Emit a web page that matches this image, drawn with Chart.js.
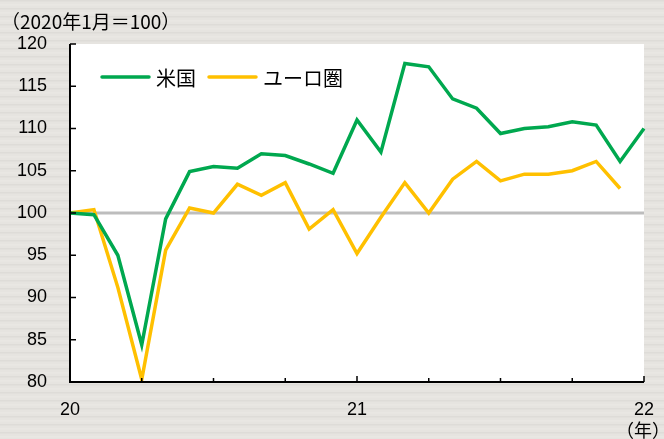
<!DOCTYPE html>
<html>
<head>
<meta charset="utf-8">
<script src="https://cdn.jsdelivr.net/npm/chart.js@4.4.1/dist/chart.umd.min.js"></script>
<style>
html,body{margin:0;padding:0;background:#e5e3df;}
#wrap{position:relative;width:664px;height:439px;}
canvas{display:block;}
</style>
</head>
<body>
<div id="wrap"><canvas id="c" width="664" height="439"></canvas></div>
<script>
// months Jan 2020 .. Jan 2022
const months = ["2020-01","2020-02","2020-03","2020-04","2020-05","2020-06","2020-07","2020-08","2020-09","2020-10","2020-11","2020-12",
                "2021-01","2021-02","2021-03","2021-04","2021-05","2021-06","2021-07","2021-08","2021-09","2021-10","2021-11","2021-12",
                "2022-01"];
const yearLabels = {0:"20", 12:"21", 24:"22"};
const usValues = [100,99.8,95.0,84.4,99.3,104.9,105.5,105.3,107.0,106.8,105.8,104.7,
                  111.0,107.2,117.7,117.3,113.5,112.4,109.4,110.0,110.2,110.8,110.4,106.1,
                  110.0];
const euroValues = [100,100.4,91.2,80.3,95.6,100.6,100.0,103.4,102.1,103.6,98.1,100.4,
                    95.2,99.5,103.6,100.0,104.0,106.1,103.8,104.6,104.6,105.0,106.1,102.9,
                    null];
const baseValues = months.map(()=>100);
const yTicks = [80,85,90,95,100,105,110,115,120];

const FONT = "'Liberation Sans', Arial, 'Noto Sans CJK JP', sans-serif";
const JFONT = "'Noto Sans CJK JP', 'Liberation Sans', sans-serif";
const GREEN = "#00a84f";
const YELLOW = "#ffc000";

const bgPlugin = {
  id:'bg',
  beforeDraw(chart){
    const ctx = chart.ctx, w = chart.width, h = chart.height;
    ctx.save();
    ctx.fillStyle = "#e6e4e0";
    ctx.fillRect(0,0,w,h);
    for(let y=0;y<h;y+=4){
      ctx.fillStyle = (y/4)%2 ? "#e9e7e3" : "#dedcd8";
      ctx.fillRect(0,y,w,1.5);
    }
    const a = chart.chartArea;
    ctx.fillStyle = "#ffffff";
    ctx.fillRect(a.left, a.top, a.right-a.left, a.bottom-a.top);
    ctx.restore();
  },
  afterDraw(chart){
    const ctx = chart.ctx, a = chart.chartArea;
    const xs = chart.scales.x, ys = chart.scales.y;
    ctx.save();
    ctx.strokeStyle = "#000";
    ctx.lineWidth = 2;
    // axes
    ctx.beginPath();
    ctx.moveTo(a.left, a.top); ctx.lineTo(a.left, a.bottom); ctx.lineTo(a.right, a.bottom);
    ctx.stroke();
    ctx.lineWidth = 1.5;
    // y ticks inward
    yTicks.forEach(v=>{
      const py = ys.getPixelForValue(v);
      ctx.beginPath(); ctx.moveTo(a.left, py); ctx.lineTo(a.left+6, py); ctx.stroke();
    });
    // x ticks inward, quarterly
    months.forEach((m,i)=>{
      if(i%3===0){
        const px = xs.getPixelForValue(i);
        const len = (i%12===0)?6:4;
        ctx.beginPath(); ctx.moveTo(px, a.bottom); ctx.lineTo(px, a.bottom-len); ctx.stroke();
      }
    });
    // title and unit
    ctx.fillStyle = "#000";
    ctx.font = "19px " + JFONT;
    ctx.textBaseline = "middle";
    ctx.textAlign = "left";
    ctx.fillText("（2020年1月＝100）", 1, 22);
    ctx.font = "18px " + JFONT;
    ctx.textAlign = "right";
    ctx.fillText("（年）", 670, 430);
    // legend
    const items = chart.data.datasets.filter(d=>d.showInLegend);
    let lx = 102; const ly = 77;
    ctx.font = "20px " + JFONT;
    ctx.textAlign = "left";
    items.forEach(d=>{
      ctx.strokeStyle = d.borderColor; ctx.lineWidth = 3.5; ctx.lineCap = "round";
      ctx.beginPath(); ctx.moveTo(lx, ly); ctx.lineTo(lx+47, ly); ctx.stroke();
      ctx.fillStyle = "#000";
      ctx.fillText(d.label, lx+54, ly+1);
      lx += 54 + ctx.measureText(d.label).width + 13;
    });
    ctx.restore();
  }
};

new Chart(document.getElementById('c'), {
  type:'line',
  data:{
    labels: months,
    datasets:[
      {label:"base", data: baseValues, borderColor:"#bdbdbd", borderWidth:3, pointRadius:0, showInLegend:false, order:3},
      {label:"米国", data: usValues, borderColor:GREEN, borderWidth:3.5, pointRadius:0, tension:0, showInLegend:true, order:1},
      {label:"ユーロ圏", data: euroValues, borderColor:YELLOW, borderWidth:3.5, pointRadius:0, tension:0, showInLegend:true, order:2, spanGaps:false}
    ]
  },
  options:{
    responsive:false,
    animation:false,
    layout:{padding:{top:44, right:20, left:0, bottom:0}},
    plugins:{legend:{display:false}, tooltip:{enabled:false}},
    scales:{
      x:{
        type:'category',
        offset:false,
        grid:{display:false, drawTicks:false},
        border:{display:false},
        afterFit(s){ s.height = 57; s.paddingLeft = 0; s.paddingRight = 0; },
        ticks:{
          autoSkip:false, maxRotation:0, padding:17,
          color:"#000", font:{family:FONT, size:18},
          callback:(v,i)=> yearLabels[i] !== undefined ? yearLabels[i] : ""
        }
      },
      y:{
        min:80, max:120,
        grid:{display:false, drawTicks:false},
        border:{display:false},
        afterFit(s){ s.width = 70; s.paddingTop = 0; s.paddingBottom = 0; },
        afterBuildTicks(s){ s.ticks = yTicks.map(v=>({value:v})); },
        ticks:{padding:23, color:"#000", font:{family:FONT, size:18}}
      }
    }
  },
  plugins:[bgPlugin]
});
</script>
</body>
</html>
